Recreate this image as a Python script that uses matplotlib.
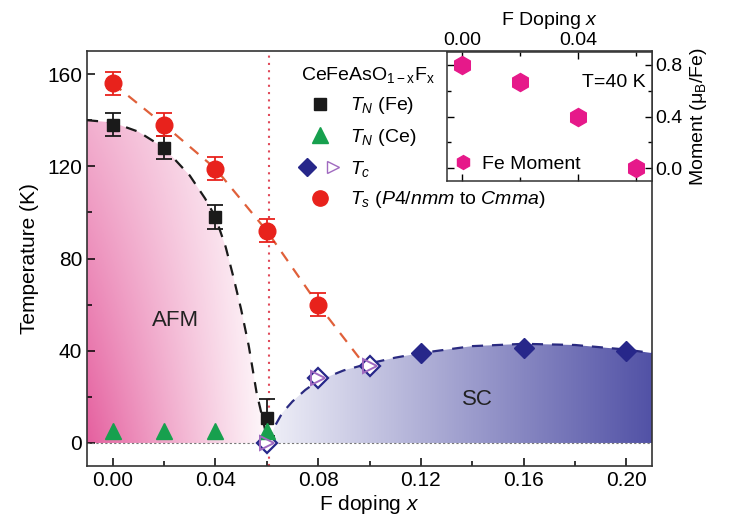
import numpy as np
import matplotlib
matplotlib.use("Agg")
import matplotlib.pyplot as plt
from matplotlib.lines import Line2D
from matplotlib.patches import Polygon
from matplotlib.legend_handler import HandlerTuple
from matplotlib.colors import to_rgb

plt.rcParams['font.family'] = ['Liberation Sans', 'DejaVu Sans']
plt.rcParams['mathtext.fontset'] = 'custom'
plt.rcParams['mathtext.rm'] = 'Liberation Sans'
plt.rcParams['mathtext.it'] = 'Liberation Sans:italic'

# main panel data
x_ts = [0.00, 0.02, 0.04, 0.06, 0.08]
ts = [156, 138, 119, 92, 60]
ts_err = [5, 5, 5, 5, 5]
x_tnfe = [0.00, 0.02, 0.04, 0.06]
tn_fe = [138, 128, 98, 11]
tn_fe_err = [5, 5, 5, 8]
x_tnce = [0.00, 0.02, 0.04, 0.06]
tn_ce = [5, 5, 5, 5]
x_tc_full = [0.12, 0.16, 0.20]
tc_full = [39, 41, 40]
x_tc_open = [0.06, 0.08, 0.10]
tc_open = [0, 28, 33.5]

# guide lines
afm_x = [-0.01, 0.0, 0.01, 0.02, 0.03, 0.036, 0.04, 0.044, 0.047, 0.05, 0.053, 0.056, 0.0585, 0.0605]
afm_t = [140, 139, 135, 128, 116, 106, 98, 85, 72, 58, 42, 22, 10, 0]
sc_x = [0.0605, 0.063, 0.066, 0.07, 0.075, 0.08, 0.09, 0.10, 0.11, 0.12, 0.14, 0.16, 0.18, 0.20, 0.21]
sc_t = [0, 7, 13, 18, 23, 27, 31.5, 34.5, 37, 39, 42, 43, 42.5, 40.5, 39]
ts_line_x = [0.0, 0.02, 0.04, 0.06, 0.08, 0.098]
ts_line_t = [156, 138, 119, 92, 60, 34]
x_boundary = 0.061

# inset data
x_mom = [0.00, 0.02, 0.04, 0.06]
moment = [0.80, 0.67, 0.40, 0.0]

fig = plt.figure(figsize=(7.33, 5.27), dpi=100)
ax = fig.add_axes([0.1187, 0.1157, 0.7708, 0.7875])

xmin, xmax, ymin, ymax = -0.01, 0.21, -10, 170

# gradient fills
nx, ny = 300, 200
gx = np.linspace(xmin, xmax, nx)
gy = np.linspace(ymin, ymax, ny)
GX, GY = np.meshgrid(gx, gy)

pink = np.array(to_rgb('#e5609f'))
w = np.clip(1 - (GX - xmin) / 0.074, 0, 1) ** 1.1
w = w * (0.5 + 0.5 * np.clip(1 - GY / 140, 0, 1))
img_p = np.ones((ny, nx, 3)) * (1 - w[..., None]) + pink * w[..., None]
afm_poly = Polygon(list(zip(afm_x, afm_t)) + [(afm_x[-1], 0), (xmin, 0)],
                   closed=True, facecolor='none', edgecolor='none')
ax.add_patch(afm_poly)
im1 = ax.imshow(img_p, extent=[xmin, xmax, ymin, ymax], origin='lower',
                aspect='auto', zorder=1)
im1.set_clip_path(afm_poly)

blue = np.array(to_rgb('#5252a6'))
light = np.array(to_rgb('#f0f0f8'))
v = np.clip((GX - 0.06) / (xmax - 0.06), 0, 1)
img_b = light * (1 - v[..., None]) + blue * v[..., None]
sc_poly = Polygon(list(zip(sc_x, sc_t)) + [(sc_x[-1], 0), (sc_x[0], 0)],
                  closed=True, facecolor='none', edgecolor='none')
ax.add_patch(sc_poly)
im2 = ax.imshow(img_b, extent=[xmin, xmax, ymin, ymax], origin='lower',
                aspect='auto', zorder=1)
im2.set_clip_path(sc_poly)

# reference lines
ax.axhline(0, color='#777777', lw=0.8, ls=(0, (2, 2)), zorder=2)
ax.axvline(x_boundary, color='#e04a5a', lw=1.5, ls=(0, (1, 2.5)), zorder=2)

# guide curves
ax.plot(afm_x, afm_t, color='#1a1a1a', lw=1.6, ls=(0, (5, 4)), zorder=3)
ax.plot(sc_x, sc_t, color='#2a2a80', lw=1.6, ls=(0, (5, 4)), zorder=3)
ax.plot(ts_line_x, ts_line_t, color='#e0603a', lw=1.6, ls=(0, (5, 4)), zorder=3)

# data points
ax.errorbar(x_tnfe, tn_fe, yerr=tn_fe_err, fmt='s', color='#1a1a1a', ms=9,
            capsize=6, elinewidth=1.3, capthick=1.3, zorder=5)
ax.errorbar(x_ts, ts, yerr=ts_err, fmt='o', color='#e8221c', ms=12,
            capsize=6, elinewidth=1.3, capthick=1.3, zorder=5)
ax.plot(x_tnce, tn_ce, '^', color='#17a04e', ms=12, ls='none', zorder=6)
ax.plot(x_tc_full, tc_full, 'D', color='#27278a', ms=10, ls='none', zorder=5)
ax.plot(x_tc_open, tc_open, 'D', mfc='white', mec='#27278a', mew=1.6, ms=10,
        ls='none', zorder=5)
ax.plot(x_tc_open, tc_open, '>', mfc='none', mec='#a06ac0', mew=1.4, ms=10,
        ls='none', zorder=6)

ax.text(0.0246, 53, 'AFM', fontsize=16, ha='center', va='center', color='#222222', zorder=7)
ax.text(0.142, 19, 'SC', fontsize=16, ha='center', va='center', color='#222222', zorder=7)

ax.set_xlim(xmin, xmax)
ax.set_ylim(ymin, ymax)
ax.set_xticks(np.arange(0, 0.201, 0.04))
ax.set_xticks(np.arange(0, 0.211, 0.02), minor=True)
ax.set_yticks(np.arange(0, 161, 40))
ax.set_yticks(np.arange(0, 171, 20), minor=True)
ax.set_xticklabels(['%.2f' % t for t in np.arange(0, 0.201, 0.04)])
ax.tick_params(which='both', direction='in', top=False, right=False, labelsize=15, width=1.1)
ax.tick_params(which='major', length=6)
ax.tick_params(which='minor', length=3.5)
for s in ax.spines.values():
    s.set_linewidth(1.2)
    s.set_color('#333333')
ax.set_xlabel('F doping $x$', fontsize=15, labelpad=2)
ax.set_ylabel('Temperature (K)', fontsize=15, labelpad=6)

# legend
h_fe = Line2D([], [], marker='s', color='#1a1a1a', ls='none', ms=9)
h_ce = Line2D([], [], marker='^', color='#17a04e', ls='none', ms=11)
h_d = Line2D([], [], marker='D', color='#27278a', ls='none', ms=9)
h_t = Line2D([], [], marker='>', mfc='none', mec='#a06ac0', ls='none', ms=9)
h_s = Line2D([], [], marker='o', color='#e8221c', ls='none', ms=11)
leg = ax.legend([h_fe, h_ce, (h_d, h_t), h_s],
                ['$T_N$ (Fe)', '$T_N$ (Ce)', '$T_c$', '$T_s$ ($P4/nmm$ to $Cmma$)'],
                handler_map={tuple: HandlerTuple(ndivide=None, pad=0.8)},
                loc='upper left', bbox_to_anchor=(0.355, 1.0), frameon=False,
                fontsize=14, title='CeFeAsO$_{\\mathregular{1-x}}$F$_{\\mathregular{x}}$',
                title_fontsize=14, handlelength=1.9, handletextpad=0.6,
                labelspacing=0.55, borderaxespad=0.3)
leg._legend_box.align = 'left'
leg.set_zorder(8)

# inset
axi = fig.add_axes([0.6098, 0.6565, 0.2797, 0.2448])
axi.plot(x_mom, moment, 'h', color='#e6198a', ms=13, ls='none')
axi.set_xlim(-0.0052, 0.0655)
axi.set_ylim(-0.1, 0.9)
axi.set_xticks([0.0, 0.04])
axi.set_xticks([0.02, 0.06], minor=True)
axi.set_yticks([0.0, 0.4, 0.8])
axi.set_yticks([0.2, 0.6], minor=True)
axi.set_xticklabels(['0.00', '0.04'])
axi.xaxis.tick_top()
axi.yaxis.tick_right()
axi.tick_params(which='both', direction='in', top=True, bottom=True, left=True, right=True,
                labelsize=14, width=1.0, pad=2)
axi.tick_params(which='major', length=5)
axi.tick_params(which='minor', length=3)
axi.xaxis.set_label_position('top')
axi.yaxis.set_label_position('right')
axi.set_xlabel('F Doping $x$', fontsize=14, labelpad=5)
axi.set_ylabel('Moment (μ$_{\\mathregular{B}}$/Fe)', fontsize=14, labelpad=4)
for s in axi.spines.values():
    s.set_linewidth(1.1)
    s.set_color('#333333')
axi.text(0.97, 0.76, 'T=40 K', transform=axi.transAxes, fontsize=14, ha='right', va='center')
h_m = Line2D([], [], marker='h', color='#e6198a', ls='none', ms=10)
axi.legend([h_m], ['Fe Moment'], loc='lower left', frameon=False, fontsize=14,
           handlelength=0.8, handletextpad=0.6, borderaxespad=0.1, borderpad=0.3)

fig.savefig('out.png', dpi=100)
